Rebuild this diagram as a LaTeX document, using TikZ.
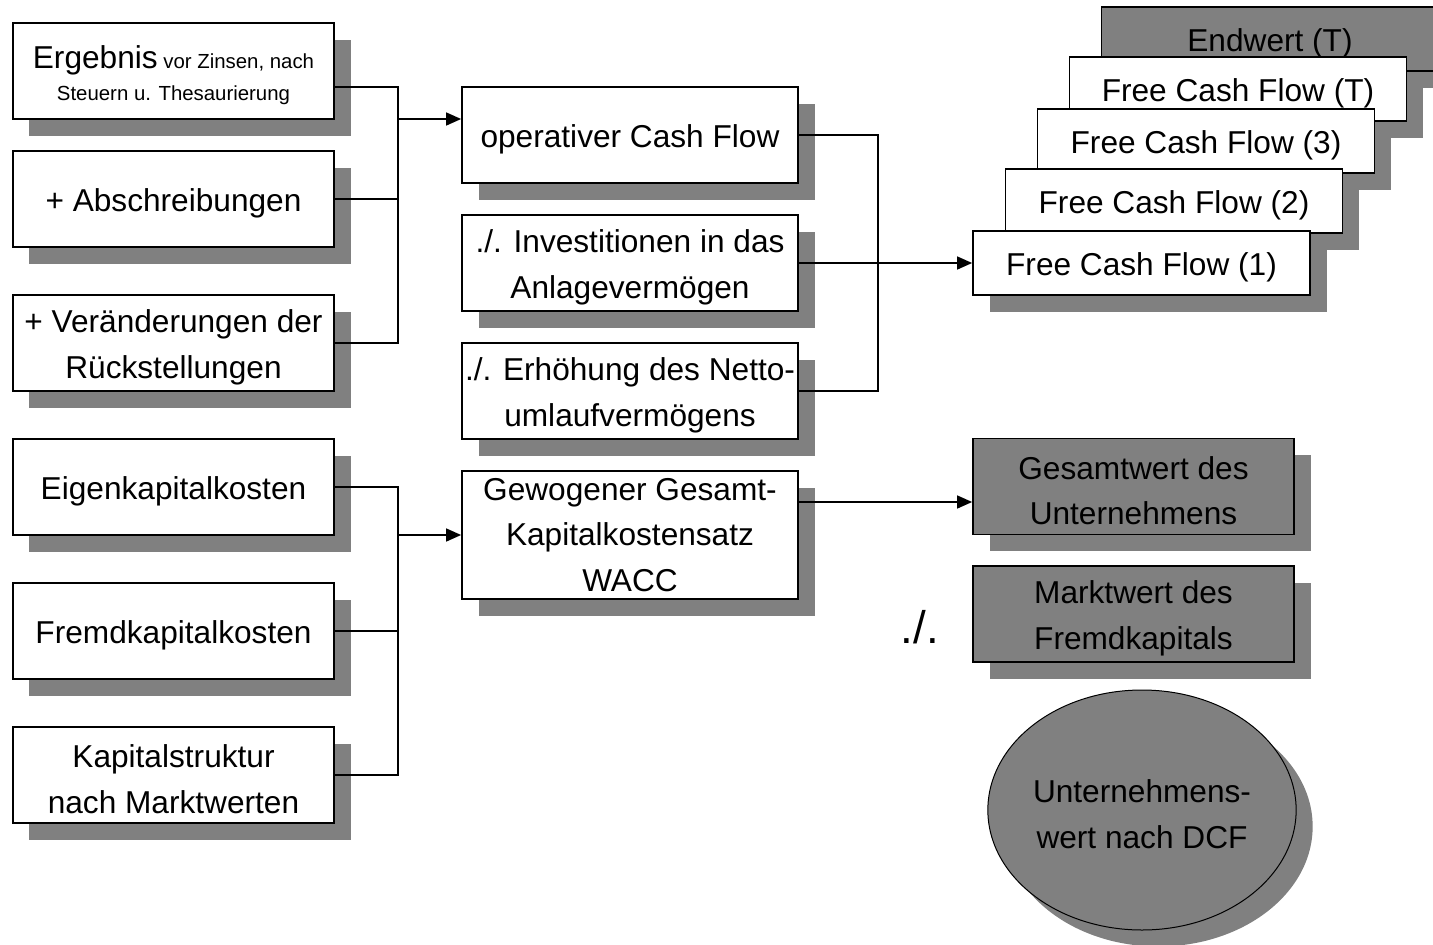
\documentclass[tikz,border=0pt]{standalone}
\usepackage{fontspec}
\setmainfont{Liberation Sans}
\usetikzlibrary{arrows.meta, positioning, shadows, shapes.geometric}

\newcommand{\bigtxt}{\fontsize{18}{26}\selectfont}
\newcommand{\smalltxt}{\fontsize{11.6}{18.7}\selectfont}
\newcommand{\up}{\rule{0pt}{17.8pt}}

\begin{document}
\begin{tikzpicture}[x=0.2mm, y=-0.2mm,
    box/.style={rectangle, draw, line width=0.35mm, fill=white, inner sep=0pt, align=center, font=\bigtxt,
      minimum width=64.2mm, minimum height=19.2mm,
      execute at begin node={\up},
      drop shadow={shadow xshift=3.3mm, shadow yshift=-3.3mm, fill=gray, opacity=1}},
    midbox/.style={box, minimum width=67.2mm},
    fcfbox/.style={box, minimum width=67.4mm, minimum height=12.8mm},
    result/.style={fill=gray},
    line/.style={line width=0.3mm},
    arr/.style={line, -{Triangle[length=3mm,width=2.6mm]}}]
      \clip (0,0) rectangle (1433,945);

      \node[box, font=\smalltxt] (erg) at (173.5,71) {\up{\bigtxt Ergebnis} vor Zinsen, nach\\Steuern u. Thesaurierung};
      \node[box] (abs) at (173.5,199) {+ Abschreibungen};
      \node[box] (rue) at (173.5,343) {\up+ Veränderungen der\\Rückstellungen};
      \node[box] (ek) at (173.5,487) {Eigenkapitalkosten};
      \node[box] (fk) at (173.5,631) {Fremdkapitalkosten};
      \node[box] (ks) at (173.5,775) {\up Kapitalstruktur\\nach Marktwerten};

      \node[midbox] (opcf) at (630,135) {operativer Cash Flow};
      \node[midbox] (inv) at (630,263) {\up./. Investitionen in das\\Anlagevermögen};
      \node[midbox] (erh) at (630,391) {\up./. Erhöhung des Netto-\\umlaufvermögens};
      \node[midbox, minimum height=25.6mm] (wacc) at (630,535) {Gewogener Gesamt-\\Kapitalkostensatz\\WACC};

      \node[fcfbox, result] (endw) at (1270,39) {Endwert (T)};
      \node[fcfbox] (fcfT) at (1238,89) {Free Cash Flow (T)};
      \node[fcfbox] (fcf3) at (1206,141) {Free Cash Flow (3)};
      \node[fcfbox] (fcf2) at (1174,201) {Free Cash Flow (2)};
      \node[fcfbox] (fcf1) at (1141.5,263) {Free Cash Flow (1)};

      \node[box, result] (gw) at (1133.5,486.5) {\up Gesamtwert des\\Unternehmens};
      \node[box, result] (mw) at (1133.5,614) {\up Marktwert des\\Fremdkapitals};
      \node[font=\fontsize{26}{30}\selectfont] (minus) at (920,627) {./.};
      \node[box, result, ellipse, line width=0.2mm, minimum width=61.2mm, minimum height=48mm] (dcf) at (1142,810) {\up Unternehmens-\\wert nach DCF};

      \coordinate (e1) at ([yshift=-3.2mm]erg.east);
      \coordinate (j1) at (398,119);
      \coordinate (j2) at (878,263);
      \coordinate (j3) at (398,535);
      \coordinate (w1) at ([yshift=6.6mm]wacc.east);

      \draw[line] (e1) -| (rue.east -| j1) -- (rue.east);
      \draw[line] (abs.east) -- (abs.east -| j1);
      \draw[arr] (j1) -- (j1 -| opcf.west);

      \draw[line] (opcf.east) -| (erh.east -| j2) -- (erh.east);
      \draw[arr] (inv.east) -- (fcf1.west);

      \draw[line] (ek.east) -| (ks.east -| j3) -- (ks.east);
      \draw[line] (fk.east) -- (fk.east -| j3);
      \draw[arr] (j3) -- (wacc.west);

      \draw[arr] (w1) -- (w1 -| gw.west);
\end{tikzpicture}
\end{document}
